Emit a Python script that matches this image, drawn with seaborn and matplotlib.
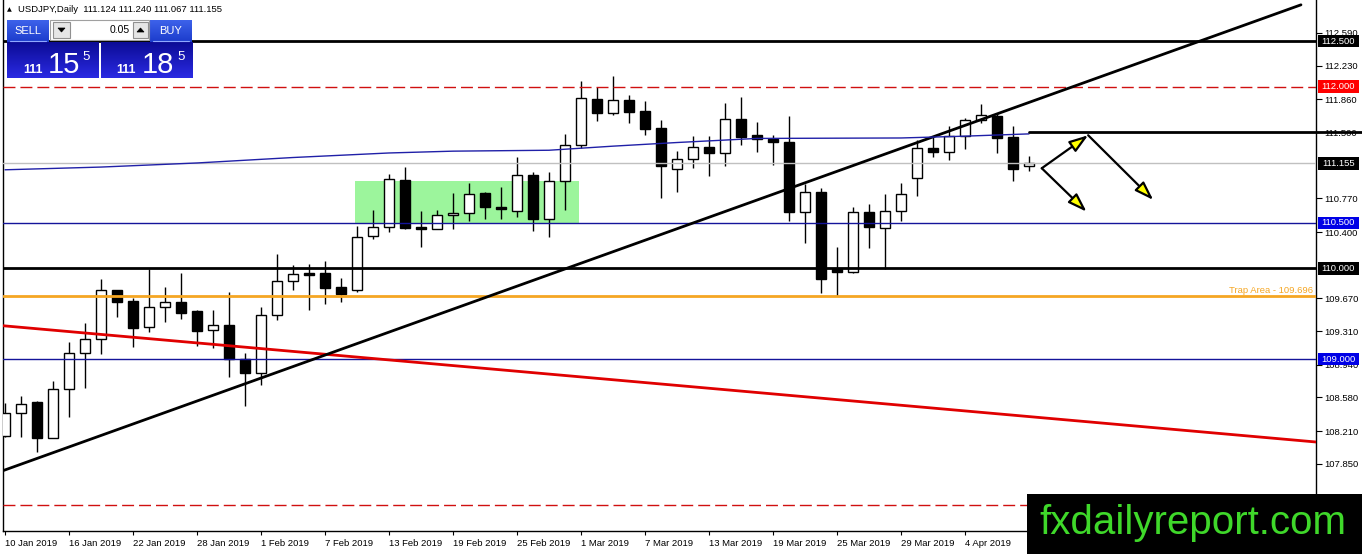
import numpy as np
import pandas as pd
import matplotlib
matplotlib.use("Agg")
import matplotlib.pyplot as plt
import matplotlib.transforms as mtransforms
from matplotlib.patches import Rectangle, Polygon
from matplotlib.colors import LinearSegmentedColormap
import seaborn as sns

# USDJPY daily candles, 10 Jan 2019 .. 10 Apr 2019 (one per weekday)
opens = [108.157, 108.410, 108.531, 108.135, 108.674, 109.070, 109.224, 109.763, 109.642, 109.356,
         109.576, 109.631, 109.532, 109.323, 109.378, 109.004, 108.850, 109.488, 109.862, 109.950,
         109.950, 109.796, 109.763, 110.357, 110.456, 110.973, 110.456, 110.434, 110.588, 110.610,
         110.830, 110.676, 110.632, 111.028, 110.544, 110.962, 111.358, 111.864, 111.710, 111.853,
         111.732, 111.545, 111.094, 111.204, 111.336, 111.270, 111.644, 111.468, 111.424, 111.391,
         110.621, 110.841, 109.994, 109.961, 110.621, 110.445, 110.632, 110.995, 111.325, 111.281,
         111.457, 111.633, 111.677, 111.446, 111.124]
highs = [108.520, 108.597, 108.542, 108.762, 109.191, 109.400, 109.884, 109.763, 109.675, 109.994,
         109.796, 109.950, 109.543, 109.543, 109.741, 109.070, 109.576, 110.159, 110.038, 110.049,
         110.082, 109.895, 110.467, 110.643, 111.039, 111.116, 110.632, 110.643, 110.830, 110.940,
         110.841, 110.896, 111.226, 111.061, 111.061, 111.479, 112.062, 111.996, 112.117, 111.908,
         111.842, 111.633, 111.292, 111.457, 111.457, 111.820, 111.886, 111.611, 111.468, 111.677,
         110.929, 110.885, 110.236, 110.676, 110.709, 110.819, 110.940, 111.413, 111.446, 111.567,
         111.655, 111.809, 111.710, 111.567, 111.240]
lows = [108.146, 108.146, 107.981, 108.135, 108.366, 108.685, 109.059, 109.466, 109.136, 109.301,
        109.411, 109.444, 109.147, 109.125, 108.806, 108.487, 108.718, 109.433, 109.763, 109.543,
        109.609, 109.631, 109.741, 110.324, 110.401, 110.434, 110.236, 110.434, 110.434, 110.522,
        110.544, 110.544, 110.566, 110.412, 110.346, 110.643, 111.325, 111.622, 111.688, 111.600,
        111.468, 110.775, 110.841, 111.105, 111.017, 111.127, 111.358, 111.281, 111.138, 110.522,
        110.280, 109.730, 109.697, 109.950, 110.225, 109.994, 110.522, 110.797, 111.226, 111.193,
        111.314, 111.600, 111.270, 110.962, 111.067]
closes = [108.410, 108.509, 108.135, 108.674, 109.070, 109.224, 109.763, 109.631, 109.345, 109.576,
          109.631, 109.510, 109.312, 109.378, 109.004, 108.850, 109.488, 109.862, 109.939, 109.928,
          109.785, 109.719, 110.346, 110.456, 110.984, 110.445, 110.434, 110.588, 110.610, 110.819,
          110.676, 110.654, 111.028, 110.544, 110.962, 111.358, 111.875, 111.710, 111.853, 111.721,
          111.534, 111.127, 111.204, 111.336, 111.270, 111.644, 111.446, 111.424, 111.391, 110.621,
          110.841, 109.884, 109.961, 110.621, 110.456, 110.632, 110.819, 111.325, 111.281, 111.457,
          111.633, 111.688, 111.435, 111.094, 111.155]

# moving average (blue curve), read at a few bars
ma_bars = [0, 6, 12, 18, 24, 28, 34, 38, 42, 47, 56, 60, 64]
ma_vals = [111.085, 111.115, 111.160, 111.220, 111.270, 111.290, 111.300, 111.345, 111.385,
           111.430, 111.435, 111.455, 111.480]

date_labels = ["10 Jan 2019", "16 Jan 2019", "22 Jan 2019", "28 Jan 2019", "1 Feb 2019",
               "7 Feb 2019", "13 Feb 2019", "19 Feb 2019", "25 Feb 2019", "1 Mar 2019",
               "7 Mar 2019", "13 Mar 2019", "19 Mar 2019", "25 Mar 2019", "29 Mar 2019",
               "4 Apr 2019"]
price_ticks = [112.590, 112.230, 111.860, 111.500, 110.770, 110.400,
               109.670, 109.310, 108.940, 108.580, 108.210, 107.850, 107.490]

# price tags on the right axis
tag_prices = [112.500, 112.000, 111.155, 110.500, 110.000, 109.000]
tag_colors = ["black", "#ff0000", "black", "#0000e6", "black", "#0000e6"]

# drawn objects
trap_level = 109.696
red_trend = ([-0.3, 81.95], [109.372, 108.090])
black_trend = ([-0.125, 81.0], [107.775, 112.900])
arrow_from = [(64.8, 111.102), (67.7, 111.465), (64.8, 111.102)]
arrow_to = [(67.7, 111.465), (71.77, 110.753), (67.6, 110.624)]
zone_bars = (21.9, 35.9)
zone_prices = (110.489, 110.962)

sns.set_style("white")
plt.rcParams['font.family'] = ['Liberation Sans', 'DejaVu Sans']

df = pd.DataFrame({'bar': np.arange(len(opens)), 'open': opens, 'high': highs,
                   'low': lows, 'close': closes})
up = df['close'] >= df['open']

fig = plt.figure(figsize=(13.62, 5.54), dpi=100)
ax = fig.add_axes([3 / 1362, 23 / 554, 1313 / 1362, 531 / 554])

# green zone
ax.add_patch(Rectangle((zone_bars[0], zone_prices[0]), zone_bars[1] - zone_bars[0],
                       zone_prices[1] - zone_prices[0], fc='#9cf59c', ec='none', zorder=1))

# candles
ax.vlines(df['bar'], df['low'], df['high'], color='black', lw=1, zorder=3)
body_lo = np.minimum(df['open'], df['close'])
body_h = np.maximum((df['close'] - df['open']).abs(), 0.012)
ax.bar(df['bar'], body_h, bottom=body_lo, width=0.6, color=np.where(up, 'white', 'black'),
       edgecolor='black', linewidth=1, zorder=4)

# levels
ax.axhline(112.5, color='black', lw=2, zorder=6)
ax.axhline(112.0, color='#d01010', lw=1, ls=(0, (8.6, 3.6)), zorder=6)
ax.axhline(111.155, color='#c0c0c0', lw=1, zorder=5)
ax.axhline(110.5, color='#14149a', lw=1, zorder=6)
ax.axhline(110.0, color='black', lw=2, zorder=6)
ax.axhline(trap_level, color='#f5a623', lw=2, zorder=6)
ax.axhline(109.0, color='#14149a', lw=1, zorder=6)
ax.axhline(107.4, color='#d01010', lw=1, ls=(0, (8.6, 3.6)), zorder=6)
ax.plot([64, 84.8], [111.5, 111.5], color='black', lw=2, zorder=7, clip_on=False)
ax.text(81.75, trap_level + 0.012, "Trap Area - 109.696", ha='right', va='bottom',
        color='#f5a623', fontsize=6.8, zorder=7)

# trend lines and moving average
ax.plot(red_trend[0], red_trend[1], color='#e00000', lw=2, zorder=6)
ax.plot(black_trend[0], black_trend[1], color='black', lw=2, zorder=6)
sns.lineplot(x=ma_bars, y=ma_vals, ax=ax, color='#2020a8', lw=1, zorder=6)

# arrows
for p0, p1 in zip(arrow_from, arrow_to):
    ax.annotate("", xy=p1, xytext=p0,
                arrowprops=dict(arrowstyle='-|>,head_length=0.95,head_width=0.32',
                                fc='#ffff00', ec='black', lw=1.6, mutation_scale=12,
                                shrinkA=0, shrinkB=0), zorder=8)

ax.set_xlim(-0.125, 81.94)
ax.set_ylim(107.111, 112.953)

# axes look
ax.yaxis.tick_right()
ax.set_yticks(price_ticks)
ax.set_yticklabels([f"{p:.3f}" for p in price_ticks])
ax.set_xticks(np.arange(0, 64, 4))
ax.set_xticklabels(date_labels)
for lab in ax.get_xticklabels():
    lab.set_ha('left')
ax.tick_params(axis='y', right=True, left=False, length=4, width=0.8, pad=2,
               labelsize=6.8, colors='black')
ax.tick_params(axis='x', bottom=True, length=3, width=0.8, pad=3, labelsize=6.8,
               colors='black')
ax.spines['top'].set_visible(False)
for s in ['left', 'bottom', 'right']:
    ax.spines[s].set_color('black')
    ax.spines[s].set_linewidth(1)

blend = mtransforms.blended_transform_factory(ax.transAxes, ax.transData)
for p, c in zip(tag_prices, tag_colors):
    ax.add_patch(Rectangle((1.0012, p - 0.068), 0.0315, 0.136, transform=blend, fc=c,
                           ec='none', clip_on=False, zorder=20))
    ax.text(1.0012 + 0.0157, p, f"{p:.3f}", transform=blend, ha='center', va='center',
            color='white', fontsize=6.8, clip_on=False, zorder=21)

# overlay: trading panel, header text and watermark
ov = fig.add_axes([0, 0, 1, 1], zorder=10)
ov.set_axis_off()
ov.patch.set_visible(False)


def grad_box(x0, y0, x1, y1, c_top, c_bot):
    cmap = LinearSegmentedColormap.from_list('g', [c_top, c_bot])
    ov.imshow(np.linspace(0, 1, 32).reshape(-1, 1), extent=(x0, x1, y1, y0), cmap=cmap,
              aspect='auto', interpolation='bilinear', zorder=1)


ov.text(7, 10, "▲", fontsize=4.5, va='center', ha='left', color='black',
        family=['DejaVu Sans'])
ov.text(18, 10, "USDJPY,Daily  111.124 111.240 111.067 111.155", fontsize=6.8,
        va='center', ha='left', color='black')

grad_box(7, 20, 49, 42, '#3d62ea', '#1c3ccc')
grad_box(150, 20, 192, 42, '#3d62ea', '#1c3ccc')
grad_box(7, 42, 99, 78, '#0c0c96', '#2a2ae2')
grad_box(101, 42, 193, 78, '#0c0c96', '#2a2ae2')
ov.plot([10, 46], [40.5, 40.5], color='#8fa8ff', lw=0.8, zorder=2)
ov.plot([153, 189], [40.5, 40.5], color='#8fa8ff', lw=0.8, zorder=2)
ov.add_patch(Rectangle((50, 20), 99, 20, fc='white', ec='#a0a0a0', lw=0.8, zorder=2))
ov.add_patch(Rectangle((53, 22), 17, 16, fc='#e6e6e6', ec='#909090', lw=0.8, zorder=3))
ov.add_patch(Rectangle((133, 22), 15, 16, fc='#e6e6e6', ec='#909090', lw=0.8, zorder=3))
ov.add_patch(Polygon([(58, 28), (65, 28), (61.5, 32)], closed=True, fc='black', ec='black',
                     lw=0.5, zorder=4))
ov.add_patch(Polygon([(137, 32), (144, 32), (140.5, 28)], closed=True, fc='black', ec='black',
                     lw=0.5, zorder=4))
ov.text(130, 30, "0.05", ha='right', va='center', fontsize=7.5, color='black', zorder=4)
ov.text(28, 30.5, "SELL", ha='center', va='center', fontsize=8, color='white', zorder=4)
ov.text(171, 30.5, "BUY", ha='center', va='center', fontsize=8, color='white', zorder=4)
for x_small, x_big, x_sup, big in [(23, 48, 82, "15"), (116, 142, 177, "18")]:
    ov.text(x_small, 73, "111", ha='left', va='baseline', fontsize=9, color='white',
            weight='bold', zorder=4)
    ov.text(x_big, 73, big, ha='left', va='baseline', fontsize=21, color='white', zorder=4)
    ov.text(x_sup, 60, "5", ha='left', va='baseline', fontsize=9.5, color='white', zorder=4)

ov.add_patch(Rectangle((1027, 494), 335, 60, fc='black', ec='none', zorder=5))
ov.text(1193, 523, "fxdailyreport.com", ha='center', va='center', fontsize=29,
        color='#3fd82a', zorder=6)

ov.set_xlim(0, 1362)
ov.set_ylim(554, 0)

fig.savefig("out.png", dpi=100)
